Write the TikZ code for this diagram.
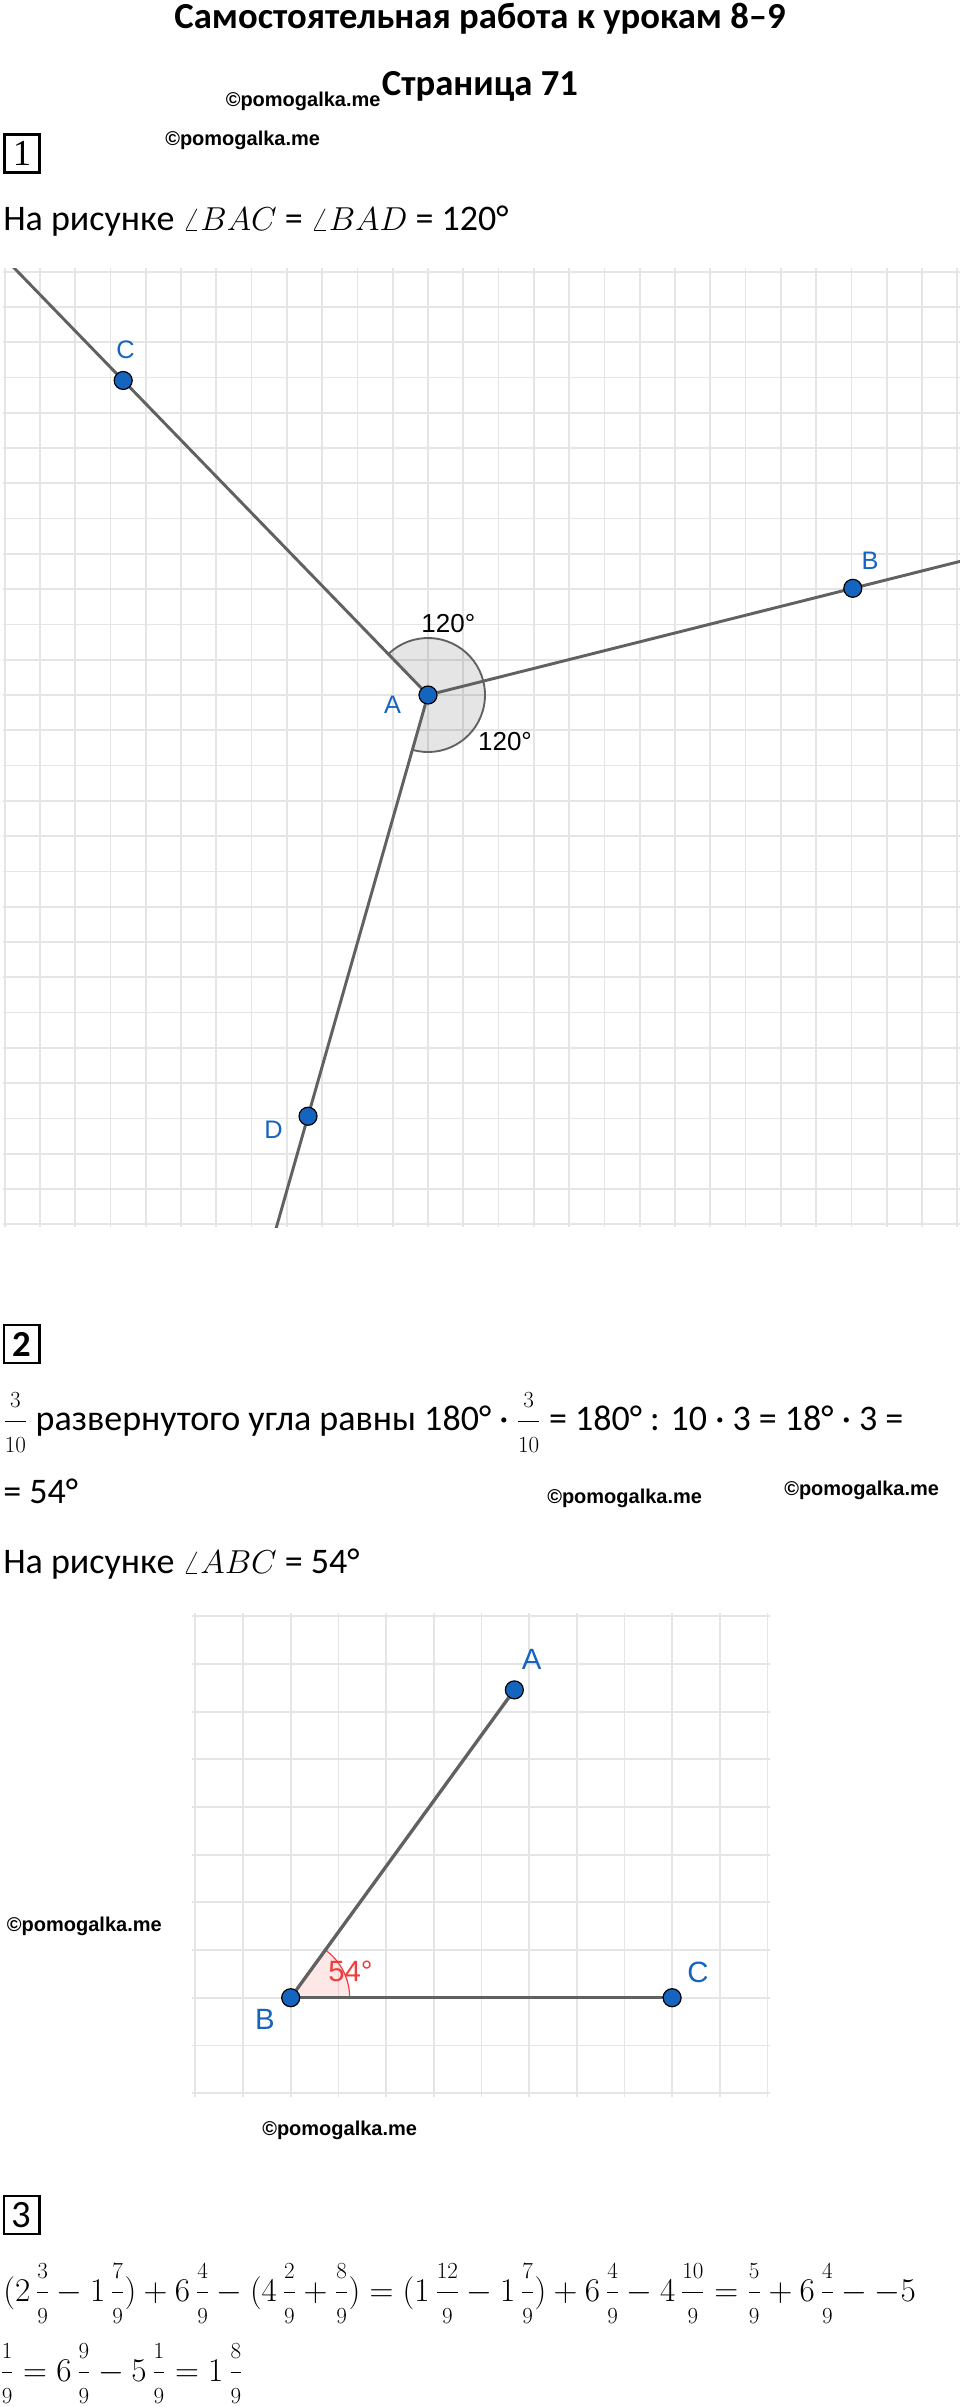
\documentclass[tikz,border=0pt]{standalone}
\usepackage{amsmath}
\usepackage{fontspec}
\setmainfont{Carlito}
\newfontfamily\ggfont{Liberation Sans}
\newfontfamily\boxfont{Liberation Serif}
\usepackage{tikz}
\usetikzlibrary{calc, backgrounds}

\definecolor{ggblau}{RGB}{21,101,192}
\definecolor{gglinie}{RGB}{97,97,97}
\definecolor{ggrot}{RGB}{240,60,60}
\definecolor{gitter}{RGB}{229,229,229}

\newcommand{\fr}[2]{\genfrac{}{}{}{0}{\scriptstyle #1}{\scriptstyle #2}}

\begin{document}
\begin{tikzpicture}[x=0.75pt, y=0.75pt, inner sep=0pt,
	punkt/.style={circle, fill=ggblau, draw=black, line width=0.9pt, minimum size=13.5pt},
	name1/.style={text=ggblau, font=\ggfont\fontsize{19}{22}\selectfont},
	name2/.style={text=ggblau, font=\ggfont\fontsize{22}{26}\selectfont},
	strahl/.style={draw=gglinie, line width=2.2pt},
	gitterlinie/.style={draw=gitter, line width=1.3pt},
	zeile/.style={anchor=base west, font=\fontsize{27}{31}\selectfont},
	formel/.style={anchor=base west, font=\fontsize{27}{31}\selectfont},
	marke/.style={anchor=base west, font=\ggfont\bfseries\fontsize{15}{18}\selectfont},
	kasten/.style={draw, line width=2.2pt, minimum width=26.3pt, minimum height=28.5pt}]
	
	\useasboundingbox (0,0) rectangle (960,-2407);
	
	% Kopf
	\node[anchor=base, font=\bfseries\fontsize{27.5}{31}\selectfont](titel) at (480,-28) {Самостоятельная работа к урокам 8–9};
	\node[anchor=base, font=\bfseries\fontsize{27.5}{31}\selectfont](seite) at (480,-95) {Страница 71};
	\node[marke](m1) at (225.5,-106) {©pomogalka.me};
	\node[marke](m2) at (165,-145) {©pomogalka.me};
	
	% Aufgabe 1
	\node[kasten, font=\boxfont\fontsize{27.5}{30}\selectfont](k1) at (22,-153.3) {1};
	\node[zeile](satz1) at (3,-230) {На рисунке $\angle BAC$ = $\angle BAD$ = 120°};
	
	\node[punkt](a) at (428,-695) {};
	\node[punkt](b) at ($(a)+(14.1:438)$) {};
	\node[punkt](c) at ($(a)+(134.1:438)$) {};
	\node[punkt](d) at ($(a)+(254.1:438)$) {};
	
	\node[name1](A) at (392.5,-705) {A};
	\node[name1](B) at (870,-561) {B};
	\node[name1](C) at (125.5,-350) {C};
	\node[name1](D) at (273.6,-1130) {D};
	
	\node[font=\ggfont\fontsize{19.5}{22}\selectfont](w1) at (448.3,-624) {120°};
	\node[font=\ggfont\fontsize{19.5}{22}\selectfont](w2) at (505,-741.7) {120°};
	
	\coordinate (b_ende) at ($(a)!1.4!(b)$);
	\coordinate (c_ende) at ($(a)!1.5!(c)$);
	\coordinate (d_ende) at ($(a)!1.4!(d)$);
	
	\begin{scope}[on background layer]
		\begin{scope}
			\clip (3,-268) rectangle (960,-1227);
			% Gitter
			\draw[gitterlinie, shift={(a)}, step=26.46pt] (-425,-532) grid (532,427);
			% Winkel
			\fill[black, fill opacity=0.1] (a.center) -- ($(a)+(14.1:57)$) arc[start angle=14.1, end angle=134.1, radius=57] -- cycle;
			\fill[black, fill opacity=0.1] (a.center) -- ($(a)+(254.1:57)$) arc[start angle=254.1, end angle=374.1, radius=57] -- cycle;
			\draw[gglinie, line width=1.4pt] ($(a)+(14.1:57)$) arc[start angle=14.1, end angle=134.1, radius=57];
			\draw[gglinie, line width=1.4pt] ($(a)+(254.1:57)$) arc[start angle=254.1, end angle=374.1, radius=57];
			% Strahlen
			\draw[strahl] (a) -- (b_ende);
			\draw[strahl] (a) -- (c_ende);
			\draw[strahl] (a) -- (d_ende);
		\end{scope}
	\end{scope}
	
	% Aufgabe 2
	\node[kasten, font=\bfseries\fontsize{27.5}{30}\selectfont](k2) at (21.5,-1344) {2};
	\node[zeile](satz2) at (3,-1430) {$\fr{3}{10}$ развернутого угла равны 180° · $\fr{3}{10}$ = 180° : 10 · 3 = 18° · 3 =};
	\node[zeile](satz3) at (3,-1503) {= 54°};
	\node[marke](m3) at (547,-1503) {©pomogalka.me};
	\node[marke](m4) at (784,-1495) {©pomogalka.me};
	\node[zeile](satz4) at (3,-1573) {На рисунке $\angle ABC$ = 54°};
	\node[marke](m5) at (6.7,-1931.7) {©pomogalka.me};
	\node[marke](m6) at (262,-2135) {©pomogalka.me};
	
	\node[punkt](b2) at (290.7,-1997.7) {};
	\node[punkt](c2) at (672.1,-1997.7) {};
	\node[punkt](a2) at ($(b2)+(54:380.5)$) {};
	
	\node[name2](A2) at (531.7,-1659) {A};
	\node[name2](B2) at (265,-2019.7) {B};
	\node[name2](C2) at (698,-1972) {C};
	\node[text=ggrot, font=\ggfont\fontsize{22}{26}\selectfont](w3) at (350.5,-1971) {54°};
	
	\begin{scope}[on background layer]
		% Gitter
		\draw[gitterlinie, shift={(b2)}, step=35.76pt] (-99,-99) grid (479,384.5);
		% Winkel
		\fill[ggrot, fill opacity=0.12] (b2.center) -- ($(b2)+(59,0)$) arc[start angle=0, end angle=54, radius=59] -- cycle;
		\draw[ggrot, line width=0.9pt] ($(b2)+(59,0)$) arc[start angle=0, end angle=54, radius=59];
		% Strecken
		\draw[strahl, line width=2.5pt] (b2) -- (a2);
		\draw[strahl, line width=2.5pt] (b2) -- (c2);
	\end{scope}
	
	% Aufgabe 3
	\node[kasten, font=\fontsize{29}{32}\selectfont](k3) at (21.5,-2215) {3};
	\node[formel](rech1) at (3,-2301) {$(2\,\fr{3}{9} - 1\,\fr{7}{9}) + 6\,\fr{4}{9} - (4\,\fr{2}{9} + \fr{8}{9}) = (1\,\fr{12}{9} - 1\,\fr{7}{9}) + 6\,\fr{4}{9} - 4\,\fr{10}{9} = \fr{5}{9} + 6\,\fr{4}{9} - - 5$};
	\node[formel](rech2) at (0,-2381) {$\fr{1}{9} = 6\,\fr{9}{9} - 5\,\fr{1}{9} = 1\,\fr{8}{9}$};
\end{tikzpicture}
\end{document}
